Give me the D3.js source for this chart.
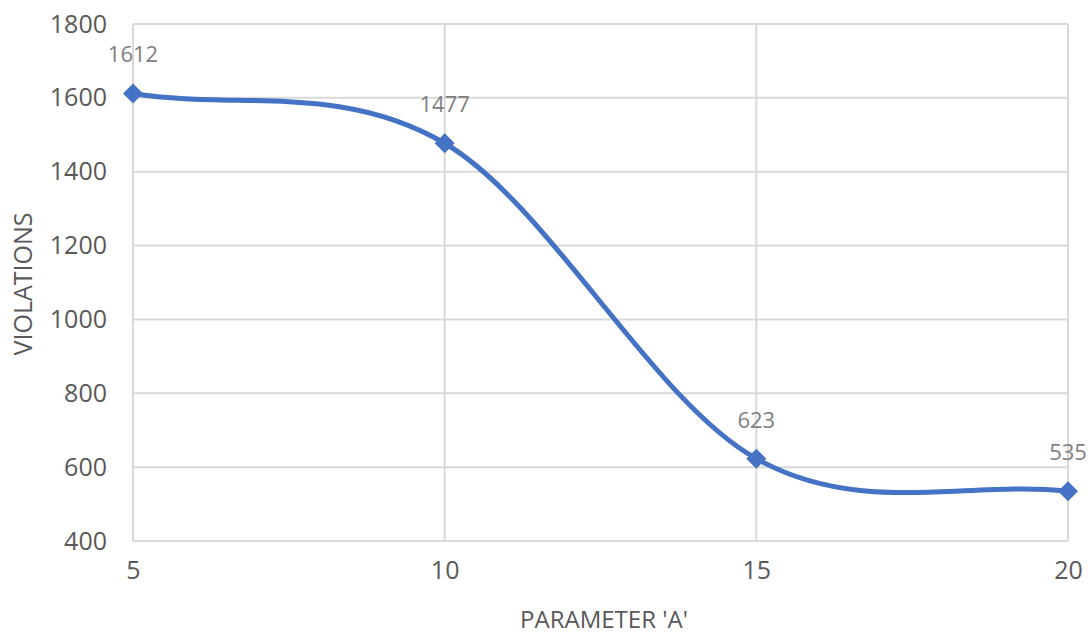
<!DOCTYPE html>
<html>
<head>
<meta charset="utf-8">
<script src="https://cdn.jsdelivr.net/npm/d3@7"></script>
<style>
  body { margin: 0; background: #fff; }
  text { font-family: 'Open Sans', 'Liberation Sans', sans-serif; }
</style>
</head>
<body>
<div id="chart"></div>
<script>
const params = [5, 10, 15, 20];
const violations = [1612, 1477, 623, 535];
const yTicks = [400, 600, 800, 1000, 1200, 1400, 1600, 1800];

const W = 1091, H = 635;
const margin = { top: 24, right: 23, bottom: 94, left: 133 };
const width = W - margin.left - margin.right;
const height = H - margin.top - margin.bottom;
const lineColor = '#4472C4';

const svg = d3.select('#chart')
  .append('svg')
  .attr('width', W)
  .attr('height', H)
  .append('g')
  .attr('transform', 'translate(' + margin.left + ',' + margin.top + ')');

const xScale = d3.scaleLinear().domain([5, 20]).range([0, width]);
const yScale = d3.scaleLinear().domain([400, 1800]).range([height, 0]);

// Gridlines
svg.selectAll('.hgrid')
  .data(yTicks)
  .enter()
  .append('line')
  .attr('class', 'hgrid')
  .attr('x1', 0).attr('x2', width)
  .attr('y1', d => yScale(d)).attr('y2', d => yScale(d))
  .attr('stroke', '#d9d9d9')
  .attr('stroke-width', 2);

svg.selectAll('.vgrid')
  .data(params)
  .enter()
  .append('line')
  .attr('class', 'vgrid')
  .attr('x1', d => xScale(d)).attr('x2', d => xScale(d))
  .attr('y1', 0).attr('y2', height)
  .attr('stroke', '#d9d9d9')
  .attr('stroke-width', 2);

// Axes (labels only)
const yAxis = svg.append('g')
  .call(d3.axisLeft(yScale).tickValues(yTicks).tickFormat(d3.format('d')).tickSize(0).tickPadding(26));
yAxis.select('.domain').remove();
yAxis.selectAll('text')
  .attr('fill', '#595959')
  .style('font-size', '25px');

const xAxis = svg.append('g')
  .attr('transform', 'translate(0,' + height + ')')
  .call(d3.axisBottom(xScale).tickValues(params).tickSize(0).tickPadding(20));
xAxis.select('.domain').remove();
xAxis.selectAll('text')
  .attr('fill', '#595959')
  .style('font-size', '25px');

// Axis titles
svg.append('text')
  .attr('x', 604 - margin.left)
  .attr('y', 628 - margin.top)
  .attr('text-anchor', 'middle')
  .attr('fill', '#595959')
  .style('font-size', '24px')
  .text("PARAMETER 'A'");

svg.append('text')
  .attr('transform', 'translate(' + (32 - margin.left) + ',' + (284 - margin.top) + ') rotate(-90)')
  .attr('text-anchor', 'middle')
  .attr('fill', '#595959')
  .style('font-size', '25px')
  .text('VIOLATIONS');

// Smoothed line (spreadsheet-style Bezier smoothing)
const data = params.map((p, i) => ({ x: p, y: violations[i] }));
const pts = data.map(d => [xScale(d.x), yScale(d.y)]);
const n = pts.length;
const tangents = pts.map((p, i) => {
  if (i === 0) return [(pts[1][0] - p[0]) / 3, (pts[1][1] - p[1]) / 3];
  if (i === n - 1) return [(p[0] - pts[n - 2][0]) / 3, (p[1] - pts[n - 2][1]) / 3];
  return [(pts[i + 1][0] - pts[i - 1][0]) / 6, (pts[i + 1][1] - pts[i - 1][1]) / 6];
});
const path = d3.path();
path.moveTo(pts[0][0], pts[0][1]);
for (let i = 0; i < n - 1; i++) {
  path.bezierCurveTo(
    pts[i][0] + tangents[i][0], pts[i][1] + tangents[i][1],
    pts[i + 1][0] - tangents[i + 1][0], pts[i + 1][1] - tangents[i + 1][1],
    pts[i + 1][0], pts[i + 1][1]);
}

svg.append('path')
  .attr('d', path.toString())
  .attr('fill', 'none')
  .attr('stroke', lineColor)
  .attr('stroke-width', 5)
  .attr('stroke-linecap', 'round');

// Diamond markers
svg.selectAll('.marker')
  .data(data)
  .enter()
  .append('path')
  .attr('class', 'marker')
  .attr('d', 'M0,-10L10,0L0,10L-10,0Z')
  .attr('transform', d => 'translate(' + xScale(d.x) + ',' + yScale(d.y) + ')')
  .attr('fill', lineColor);

// Data labels
svg.selectAll('.dlabel')
  .data(data)
  .enter()
  .append('text')
  .attr('class', 'dlabel')
  .attr('x', d => xScale(d.x))
  .attr('y', d => yScale(d.y) - 31)
  .attr('text-anchor', 'middle')
  .attr('fill', '#7f7f7f')
  .style('font-size', '22px')
  .text(d => d.y);
</script>
</body>
</html>
